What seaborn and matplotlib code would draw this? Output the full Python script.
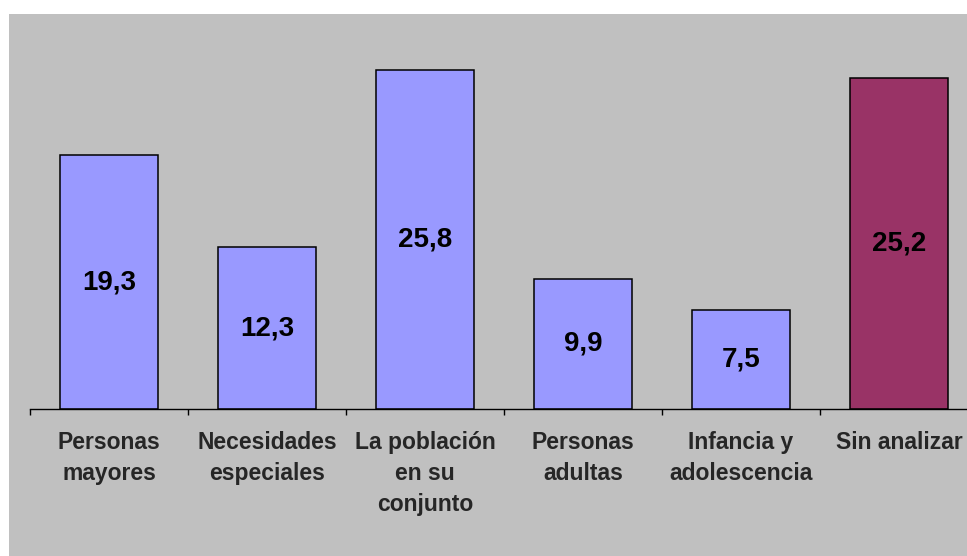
import matplotlib
matplotlib.use("Agg")
import matplotlib.pyplot as plt
from matplotlib.patches import Rectangle
import seaborn as sns
import pandas as pd

# datos del grafico
categorias = ["Personas\nmayores", "Necesidades\nespeciales", "La población\nen su\nconjunto",
              "Personas\nadultas", "Infancia y\nadolescencia", "Sin analizar"]
valores = [19.3, 12.3, 25.8, 9.9, 7.5, 25.2]
etiquetas = ["19,3", "12,3", "25,8", "9,9", "7,5", "25,2"]
colores = ["#9999FF", "#9999FF", "#9999FF", "#9999FF", "#9999FF", "#993366"]

df = pd.DataFrame({"categoria": categorias, "valor": valores})

sns.set_style("white")
plt.rcParams["font.family"] = ["Liberation Sans", "DejaVu Sans"]

W, H = 967, 556
fig = plt.figure(figsize=(W / 100, H / 100), dpi=100, facecolor="white")
# panel gris de fondo
fig.patches.append(Rectangle((9 / W, 0), 1, 1 - 14 / H, transform=fig.transFigure,
                             facecolor="#C0C0C0", edgecolor="none", zorder=-10))

ax = fig.add_axes([30 / W, (H - 409) / H, 948 / W, 389 / H])
ax.patch.set_alpha(0)

sns.barplot(data=df, x="categoria", y="valor", hue="categoria", palette=colores,
            width=0.62, edgecolor="black", linewidth=1.1, saturation=1,
            legend=False, ax=ax)

ax.set_xlim(-0.5, 5.5)
ax.set_ylim(0, 29.6)
ax.set_xlabel("")
ax.set_ylabel("")
ax.set_yticks([])
for s in ["top", "right", "left"]:
    ax.spines[s].set_visible(False)
ax.spines["bottom"].set_color("black")
ax.spines["bottom"].set_linewidth(1)

# marcas entre categorias
ax.set_xticks([i - 0.5 for i in range(7)], minor=True)
ax.tick_params(axis="x", which="minor", bottom=True, length=4, width=1, color="black", direction="out")
ax.tick_params(axis="x", which="major", length=0, pad=16)
ax.set_xticks(range(len(categorias)))
ax.set_xticklabels(categorias, fontsize=16.5, fontweight="bold", linespacing=1.45)

for i, (v, t) in enumerate(zip(valores, etiquetas)):
    ax.text(i, v / 2, t, ha="center", va="center", fontsize=20, fontweight="bold", color="black")

fig.savefig("out.png", dpi=100, facecolor="white")
